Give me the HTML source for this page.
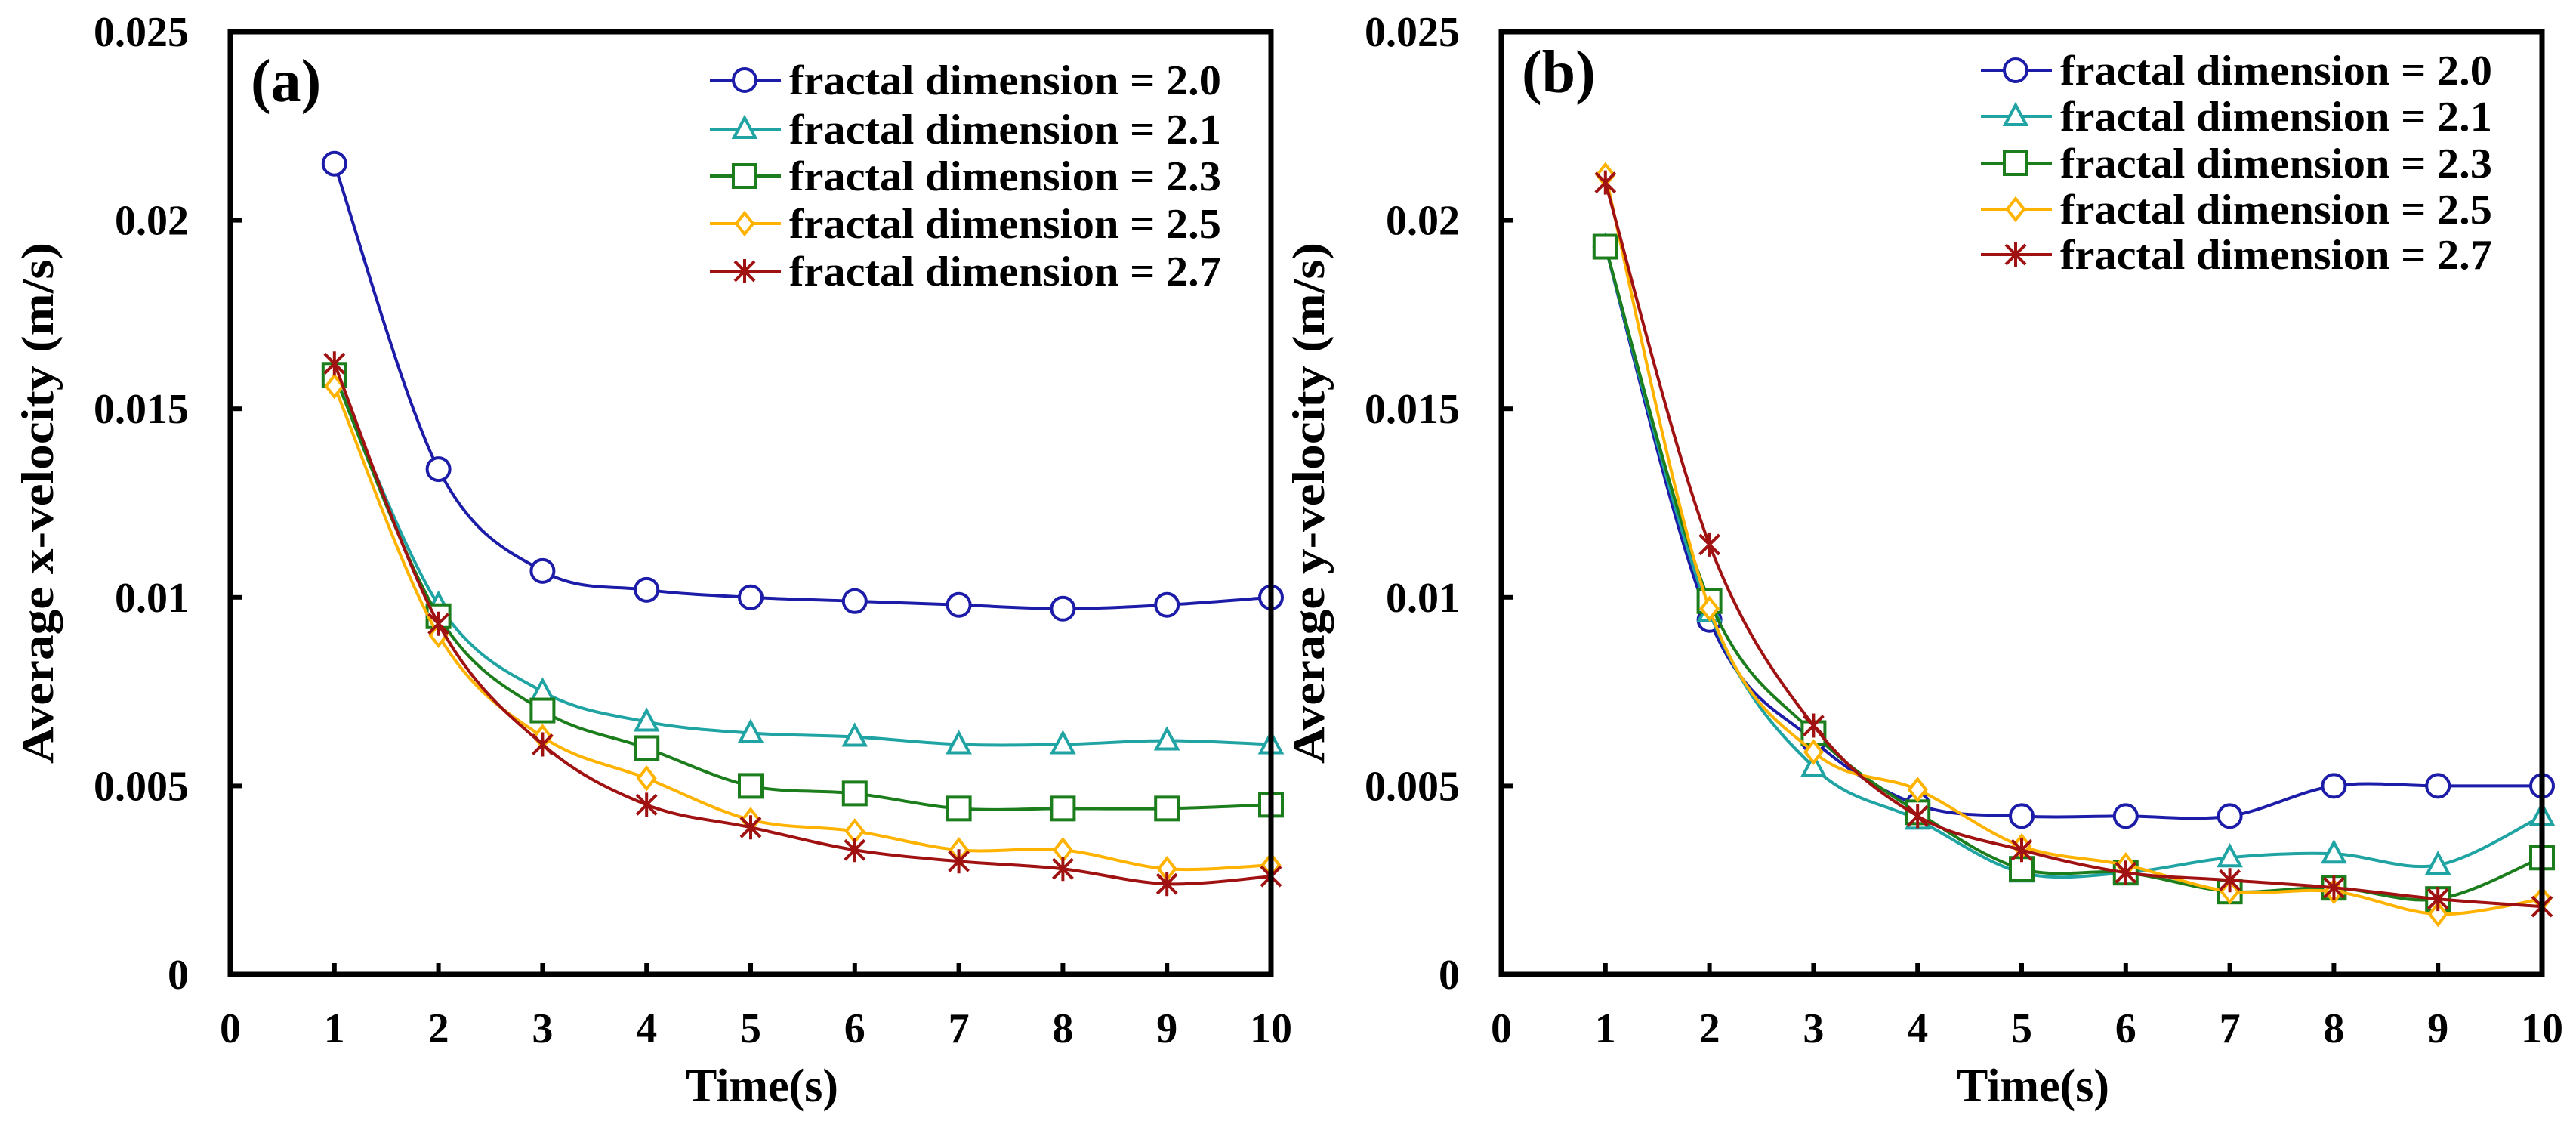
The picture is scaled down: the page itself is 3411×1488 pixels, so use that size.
<!DOCTYPE html>
<html><head><meta charset="utf-8"><style>
html,body{margin:0;padding:0;background:#fff;}
svg{display:block;}
text{font-family:"Liberation Serif",serif;font-weight:bold;fill:#000;}
</style></head><body>
<svg id="chart" width="3411" height="1488" viewBox="0 0 3411 1488" xmlns="http://www.w3.org/2000/svg"></svg>
<script>
const times = [1,2,3,4,5,6,7,8,9,10];
const xTicks = ["0","1","2","3","4","5","6","7","8","9","10"];
const yTicks = ["0","0.005","0.01","0.015","0.02","0.025"];
const seriesNames = ["fractal dimension = 2.0","fractal dimension = 2.1","fractal dimension = 2.3","fractal dimension = 2.5","fractal dimension = 2.7"];
const xVel20 = [0.0215,0.0134,0.0107,0.0102,0.0100,0.0099,0.0098,0.0097,0.0098,0.0100];
const xVel21 = [0.0159,0.0098,0.0075,0.0067,0.0064,0.0063,0.0061,0.0061,0.0062,0.0061];
const xVel23 = [0.0159,0.0095,0.0070,0.0060,0.0050,0.0048,0.0044,0.0044,0.0044,0.0045];
const xVel25 = [0.0156,0.0090,0.0063,0.0052,0.0041,0.0038,0.0033,0.0033,0.0028,0.0029];
const xVel27 = [0.0162,0.0093,0.0061,0.0045,0.0039,0.0033,0.0030,0.0028,0.0024,0.0026];
const yVel20 = [0.0193,0.0094,0.0062,0.0045,0.0042,0.0042,0.0042,0.0050,0.0050,0.0050];
const yVel21 = [0.0193,0.0096,0.0055,0.0041,0.0027,0.0027,0.0031,0.0032,0.0029,0.0042];
const yVel23 = [0.0193,0.0099,0.0064,0.0043,0.0028,0.0027,0.0022,0.0023,0.0020,0.0031];
const yVel25 = [0.0212,0.0097,0.0059,0.0049,0.0034,0.0029,0.0022,0.0022,0.0016,0.0020];
const yVel27 = [0.0210,0.0114,0.0066,0.0042,0.0033,0.0027,0.0025,0.0023,0.0020,0.0018];

const colors = ["#1c1ca8","#1fa3a3","#1b7d1b","#ffb300","#a01212"];
const markers = ["circle","triangle","square","diamond","star"];
const NS = "http://www.w3.org/2000/svg";
const svg = document.getElementById("chart");
function mk(tag, attrs, parent){const e=document.createElementNS(NS,tag);for(const k in attrs)e.setAttribute(k,attrs[k]);(parent||svg).appendChild(e);return e;}

function marker(g, type, cx, cy, color){
  let e;
  const st={fill:"#fff",stroke:color,"stroke-width":4};
  if(type==="circle"){e=mk("circle",Object.assign({cx:cx,cy:cy,r:15},st),g);}
  else if(type==="triangle"){e=mk("polygon",Object.assign({points:`${cx},${cy-15} ${cx+14},${cy+11} ${cx-14},${cy+11}`},st),g);}
  else if(type==="square"){e=mk("rect",Object.assign({x:cx-15,y:cy-15,width:30,height:30},st),g);}
  else if(type==="diamond"){e=mk("polygon",Object.assign({points:`${cx},${cy-14} ${cx+11},${cy} ${cx},${cy+14} ${cx-11},${cy}`},st),g);}
  else {e=mk("path",{d:`M${cx-13},${cy-13}L${cx+13},${cy+13}M${cx+13},${cy-13}L${cx-13},${cy+13}M${cx},${cy-16}L${cx},${cy+16}`,stroke:color,"stroke-width":4,fill:"none"},g);}
  
  
}

function smoothPath(pts){
  let d=`M${pts[0][0]},${pts[0][1]}`;
  for(let i=0;i<pts.length-1;i++){
    const p0=pts[Math.max(0,i-1)],p1=pts[i],p2=pts[i+1],p3=pts[Math.min(pts.length-1,i+2)];
    const c1=[p1[0]+(p2[0]-p0[0])/6,p1[1]+(p2[1]-p0[1])/6];
    const c2=[p2[0]-(p3[0]-p1[0])/6,p2[1]-(p3[1]-p1[1])/6];
    d+=`C${c1[0]},${c1[1]} ${c2[0]},${c2[1]} ${p2[0]},${p2[1]}`;
  }
  return d;
}

function panel(cfg){
  const L=cfg.left,R=cfg.left+1378,T=42,B=1290;
  const xs=v=>L+(v/10)*(R-L);
  const ys=v=>B-(v/0.025)*(B-T);
  const g=mk("g",{});
  
  
  cfg.data.forEach((arr,si)=>{
    const sg=mk("g",{},g);
    
    
    const pts=arr.map((v,i)=>[xs(times[i]),ys(v)]);
    const p=mk("path",{d:smoothPath(pts),fill:"none",stroke:colors[si],"stroke-width":4},sg);
    
    
    pts.forEach(pt=>marker(sg,markers[si],pt[0],pt[1],colors[si]));
  });
  const fr=mk("rect",{x:L,y:T,width:R-L,height:B-T,fill:"none",stroke:"#000","stroke-width":7},g);
  
  
  yTicks.forEach(t=>{
    const y=ys(parseFloat(t));
    const ln=mk("line",{x1:L,x2:L+15,y1:y,y2:y,stroke:"#000","stroke-width":6},g);
    
    
    const tx=mk("text",{x:L-55,y:y+19,"text-anchor":"end","font-size":56},g);
    tx.textContent=t;
    
    
  });
  xTicks.forEach(t=>{
    const x=xs(parseFloat(t));
    const ln=mk("line",{x1:x,x2:x,y1:B,y2:B-15,stroke:"#000","stroke-width":6},g);
    
    
    const tx=mk("text",{x:x,y:1380,"text-anchor":"middle","font-size":56},g);
    tx.textContent=t;
    
    
  });
  const xt=mk("text",{x:(L+R)/2+15,y:1458,"text-anchor":"middle","font-size":62},g);
  xt.textContent="Time(s)";
  
  
  const yt=mk("text",{x:0,y:0,"text-anchor":"middle","font-size":60,textLength:690,lengthAdjust:"spacingAndGlyphs",transform:`translate(${L-235},${(T+B)/2}) rotate(-90)`},g);
  yt.textContent=cfg.ytitle;
  
  
  const pl=mk("text",{x:L+27,y:cfg.labelY,"font-size":80},g);
  pl.textContent=cfg.label;
  
  
  const lg=mk("g",{},g);
  
  
  seriesNames.forEach((n,i)=>{
    const y=cfg.legY[i];
    const eg=mk("g",{},lg);
    
    
    mk("line",{x1:cfg.legX,x2:cfg.legX+94,y1:y,y2:y,stroke:colors[i],"stroke-width":4},eg);
    marker(eg,markers[i],cfg.legX+46,y,colors[i]);
    const tx=mk("text",{x:cfg.legX+105,y:y+19,"font-size":56,textLength:572,lengthAdjust:"spacingAndGlyphs"},eg);
    tx.textContent=n;
  });
}
panel({name:"panel-a-x-velocity",left:305,data:[xVel20,xVel21,xVel23,xVel25,xVel27],ytitle:"Average  x-velocity (m/s)",label:"(a)",labelY:134,legX:940,legY:[106,171,233,296,359]});
panel({name:"panel-b-y-velocity",left:1988,data:[yVel20,yVel21,yVel23,yVel25,yVel27],ytitle:"Average  y-velocity (m/s)",label:"(b)",labelY:122,legX:2623,legY:[93,154,216,277,337]});
</script>
</body></html>
